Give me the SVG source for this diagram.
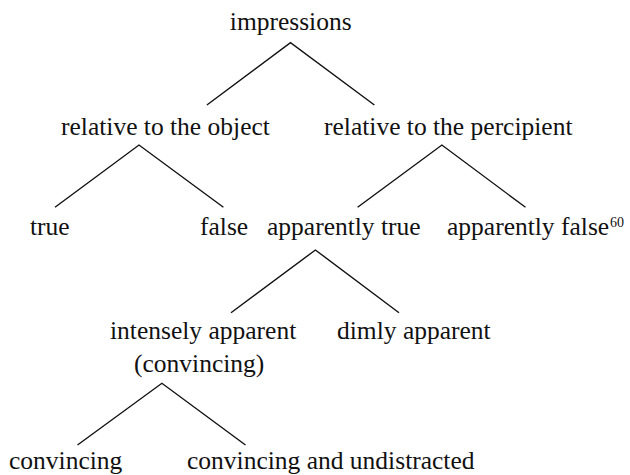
<svg xmlns="http://www.w3.org/2000/svg" width="630" height="475" viewBox="0 0 630 475">
<style>
text{font-size:25.5px;fill:#111}
.sup{font-size:14px}
.edge{stroke:#111;stroke-width:1.4;fill:none}
</style>
<rect width="630" height="475" fill="#fff"/>
<g id="connectors">
<path class="edge" d="M206.9,105 L290.5,42.7 L374.4,105"/>
<path class="edge" d="M55,207.3 L139,145 L223.4,207.3"/>
<path class="edge" d="M357.6,207.3 L441.9,145 L525.5,207.3"/>
<path class="edge" d="M231,312.7 L315.4,250 L399,312.7"/>
<path class="edge" d="M77.5,445 L161.9,383.3 L245.5,445"/>
</g>
<g font-family="Liberation Serif, DejaVu Serif, serif">
<g id="impressions"><text x="229.8" y="30">impressions</text></g>
<g id="relative-object"><text x="61" y="135">relative to the object</text></g>
<g id="relative-percipient"><text x="324" y="135">relative to the percipient</text></g>
<g id="true"><text x="30" y="235">true</text></g>
<g id="false"><text x="200" y="235">false</text></g>
<g id="apparently-true"><text x="267" y="235">apparently true</text></g>
<g id="apparently-false"><text x="447" y="235">apparently false</text><text class="sup" x="610" y="227">60</text></g>
<g id="intensely-apparent"><text x="110" y="339">intensely apparent</text><text x="134" y="372">(convincing)</text></g>
<g id="dimly-apparent"><text x="337" y="339">dimly apparent</text></g>
<g id="convincing"><text x="9" y="469">convincing</text></g>
<g id="convincing-undistracted"><text x="187" y="469">convincing and undistracted</text></g>
</g>
</svg>
